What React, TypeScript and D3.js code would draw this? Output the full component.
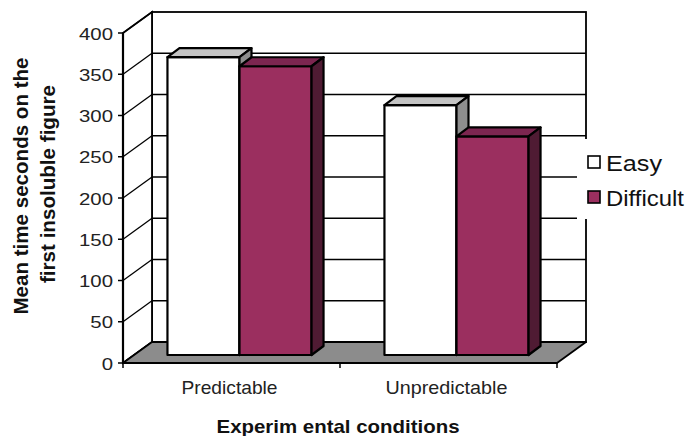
import React from "react";
import * as d3 from "d3";

const categories = ["Predictable", "Unpredictable"];
const seriesNames = ["Easy", "Difficult"];
const easyValues = [361, 303];
const difficultValues = [350, 265];
const yTicks = [0, 50, 100, 150, 200, 250, 300, 350, 400];
const yTitleLines = ["Mean time seconds on the", "first insoluble figure"];
const xTitle = "Experim ental conditions";

const FONT = "'Liberation Sans', Arial, sans-serif";
const seriesValues = [easyValues, difficultValues];
const faceColors = [
  { front: "#ffffff", top: "#c4c4c4", side: "#8e8e8e" },
  { front: "#9b2f5f", top: "#7c2650", side: "#4f1b33" },
];

export default function App() {
  const W = 686, H = 436;
  const y = d3.scaleLinear().domain([0, 400]).range([363, 33]);
  const x = d3.scaleBand<string>().domain(categories).range([123, 557]).paddingInner(0.336).paddingOuter(0.168);
  const xs = d3.scaleBand<string>().domain(seriesNames).range([0, x.bandwidth()]);
  const outer = d3.scaleBand<string>().domain(categories).range([123, 557]);
  const wdx = 29, wdy = -21; // wall depth
  const bfx = 8, bfy = -8; // bar front offset
  const bdx = 12, bdy = -9; // bar depth
  const x0 = 123, x1 = 557;
  const y0 = y(0), yTop = y(400);
  const pts = (p: number[][]) => p.map((q) => q.join(",")).join(" ");
  const sw = 1.8;

  const bars: JSX.Element[] = [];
  categories.forEach((c, ci) => {
    seriesNames.forEach((s, si) => {
      const v = seriesValues[si][ci];
      const bx0 = (x(c) as number) + (xs(s) as number) + bfx;
      const bx1 = bx0 + xs.bandwidth();
      const bt = y(v) + bfy;
      const bb = y(0) + bfy;
      const col = faceColors[si];
      bars.push(
        <g key={c + s}>
          <polygon points={pts([[bx0, bt], [bx1, bt], [bx1, bb], [bx0, bb]])} fill={col.front} stroke="#000" strokeWidth={2.2} strokeLinejoin="round" />
          <polygon points={pts([[bx0, bt], [bx1, bt], [bx1 + bdx, bt + bdy], [bx0 + bdx, bt + bdy]])} fill={col.top} stroke="#000" strokeWidth={2.2} strokeLinejoin="round" />
          <polygon points={pts([[bx1, bt], [bx1 + bdx, bt + bdy], [bx1 + bdx, bb + bdy], [bx1, bb]])} fill={col.side} stroke="#000" strokeWidth={2.2} strokeLinejoin="round" />
        </g>
      );
    });
  });

  return (
    <svg width={W} height={H} style={{ position: "absolute", left: 0, top: 0 }} fontFamily={FONT}>
      <rect width={W} height={H} fill="#fff" />
      {/* back wall */}
      <rect x={x0 + wdx} y={yTop + wdy} width={x1 - x0} height={y0 - yTop} fill="#fff" stroke="#000" strokeWidth={sw} />
      {yTicks.filter((t) => t > 0 && t < 400).map((t) => (
        <line key={"g" + t} x1={x0 + wdx} x2={x1 + wdx} y1={y(t) + wdy} y2={y(t) + wdy} stroke="#000" strokeWidth={1.4} />
      ))}
      {/* left wall */}
      <polygon points={pts([[x0, y0], [x0, yTop], [x0 + wdx, yTop + wdy], [x0 + wdx, y0 + wdy]])} fill="#fff" stroke="#000" strokeWidth={sw} />
      {yTicks.map((t) => (
        <line key={"d" + t} x1={x0} y1={y(t)} x2={x0 + wdx} y2={y(t) + wdy} stroke="#000" strokeWidth={1.3} />
      ))}
      {/* floor */}
      <polygon points={pts([[x0, y0], [x1, y0], [x1 + wdx, y0 + wdy], [x0 + wdx, y0 + wdy]])} fill="#8c8c8c" stroke="#000" strokeWidth={sw} strokeLinejoin="round" />
      {/* axes */}
      <line x1={x0} x2={x0} y1={yTop} y2={y0} stroke="#000" strokeWidth={2.2} />
      <line x1={x0} x2={x1} y1={y0} y2={y0} stroke="#000" strokeWidth={2.2} />
      {yTicks.map((t) => (
        <g key={"t" + t}>
          <line x1={x0 - 5} x2={x0} y1={y(t)} y2={y(t)} stroke="#000" strokeWidth={1.5} />
          <text transform={`translate(${x0 - 10},${y(t) + 6.5}) scale(1.2,1)`} textAnchor="end" fontSize={17} fill="#222">{t}</text>
        </g>
      ))}
      {[...categories.map((c) => outer(c) as number), x1].map((px, i) => (
        <line key={"xt" + i} x1={px} x2={px} y1={y0} y2={y0 + 5} stroke="#000" strokeWidth={1.5} />
      ))}
      {bars}
      {/* category labels */}
      {categories.map((c, i) => (
        <text key={"cl" + c} x={(outer(c) as number) + outer.bandwidth() / 2 - 2} y={394} textAnchor="middle" fontSize={19} fill="#222" textLength={i === 0 ? 96 : 122} lengthAdjust="spacingAndGlyphs">{c}</text>
      ))}
      {/* x title */}
      <text x={338} y={433} textAnchor="middle" fontSize={19} fontWeight="bold" fill="#111" textLength={243} lengthAdjust="spacingAndGlyphs">{xTitle}</text>
      {/* y title */}
      {yTitleLines.map((l, i) => (
        <text key={"yt" + i} transform={`translate(${i === 0 ? 28 : 55},${i === 0 ? 186 : 184}) rotate(-90)`} textAnchor="middle" fontSize={20} fontWeight="bold" fill="#111" textLength={i === 0 ? 257 : 198} lengthAdjust="spacingAndGlyphs">{l}</text>
      ))}
      {/* legend */}
      <rect x={577} y={139} width={109} height={80} fill="#fff" />
      {seriesNames.map((s, i) => (
        <g key={"lg" + s}>
          <rect x={588} y={156 + i * 35} width={12} height={12} fill={faceColors[i].front} stroke="#000" strokeWidth={1.6} />
          <text x={606} y={171 + i * 35} fontSize={22} fill="#111" textLength={i === 0 ? 56 : 78} lengthAdjust="spacingAndGlyphs">{s}</text>
        </g>
      ))}
    </svg>
  );
}
